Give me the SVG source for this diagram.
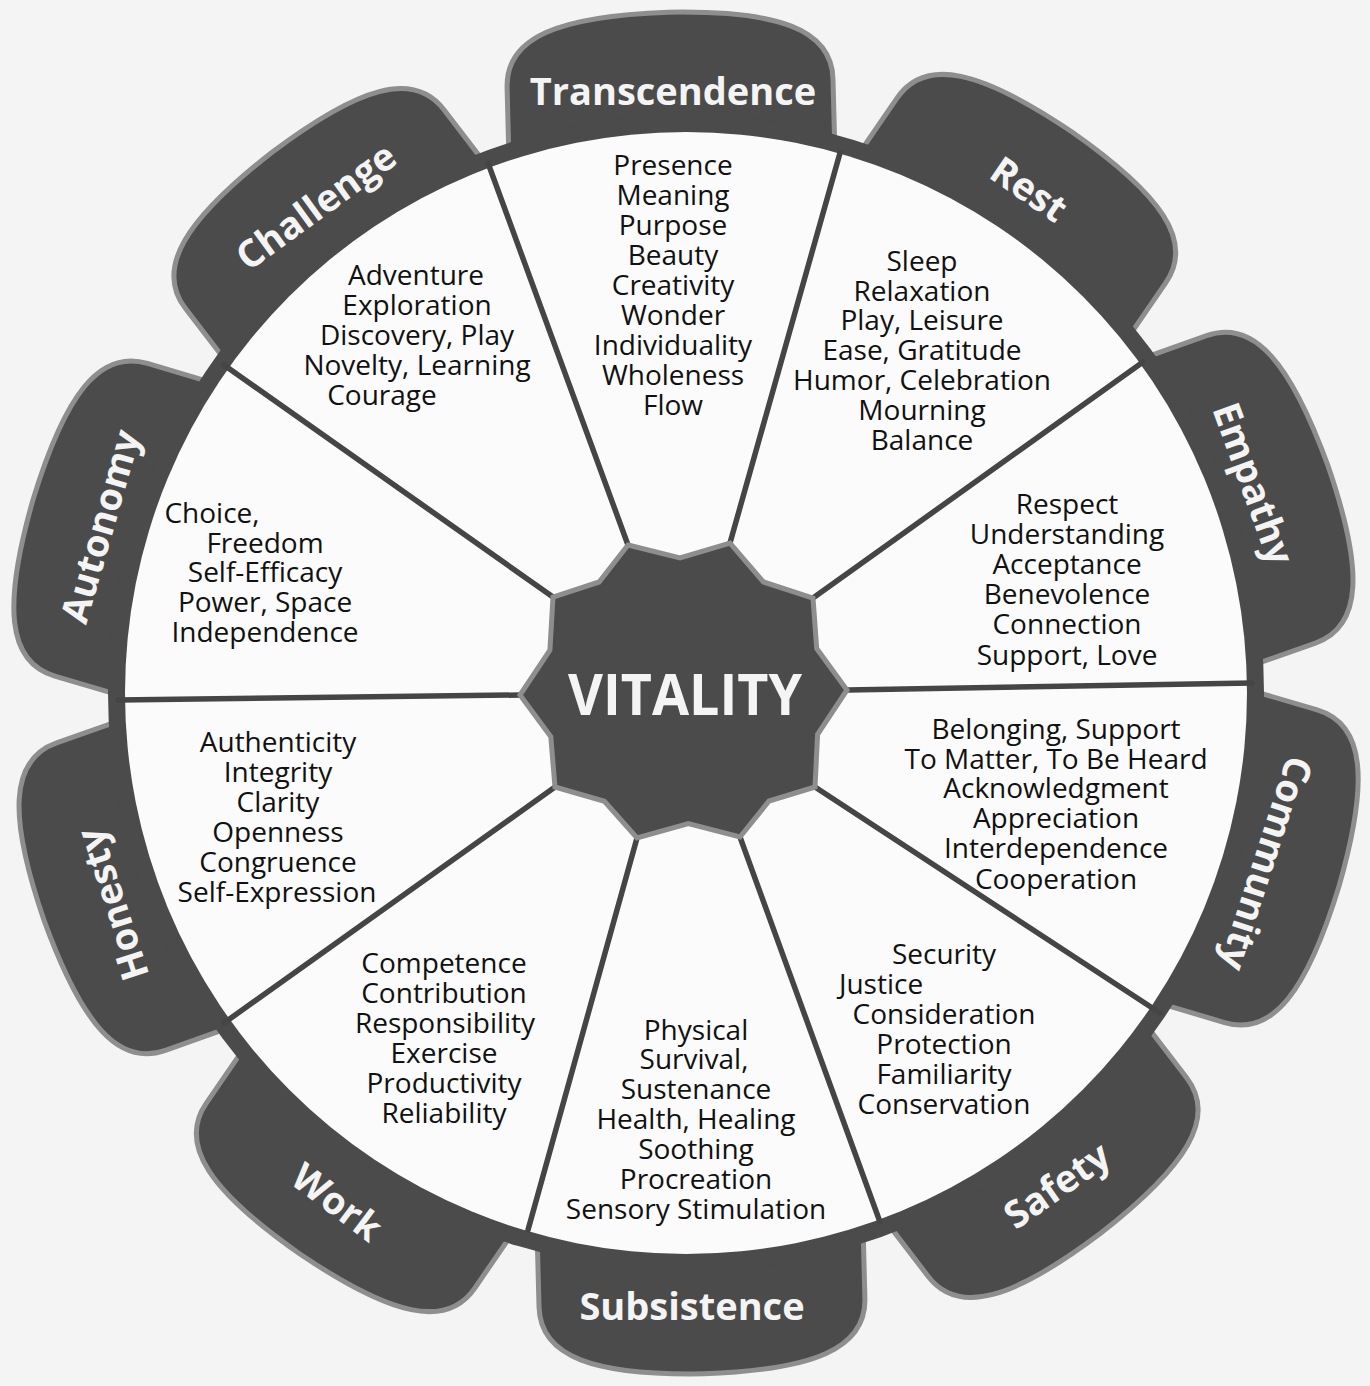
<svg xmlns="http://www.w3.org/2000/svg" width="1370" height="1386" viewBox="0 0 1370 1386">
<defs>
<style>
.petal{fill:#4b4b4b;stroke:#8e8e8e;stroke-width:5;}
.lbl{font-family:"Open Sans","Noto Sans",sans-serif;font-weight:bold;font-size:38px;fill:#f4f4f4;text-anchor:middle;dominant-baseline:central;}
.body{font-family:"Open Sans","Noto Sans",sans-serif;font-size:28px;fill:#111;text-anchor:middle;}
.spoke{stroke:#454545;stroke-width:5.5;stroke-linecap:round;}
</style>
<path id="petalShape" d="M523,153 L523,83 C523,33 576,13 686,12 C796,13 849,33 849,83 L849,153 Z"/>
</defs>
<rect x="0" y="0" width="1370" height="1386" fill="#f4f4f4"/>

<g id="petals">
<use href="#petalShape" class="petal" transform="rotate(-1.5 686 693)"/>
<use href="#petalShape" class="petal" transform="rotate(34.5 686 693)"/>
<use href="#petalShape" class="petal" transform="rotate(70.5 686 693)"/>
<use href="#petalShape" class="petal" transform="rotate(106.5 686 693)"/>
<use href="#petalShape" class="petal" transform="rotate(142.5 686 693)"/>
<use href="#petalShape" class="petal" transform="rotate(178.5 686 693)"/>
<use href="#petalShape" class="petal" transform="rotate(214.5 686 693)"/>
<use href="#petalShape" class="petal" transform="rotate(250.5 686 693)"/>
<use href="#petalShape" class="petal" transform="rotate(286.5 686 693)"/>
<use href="#petalShape" class="petal" transform="rotate(322.5 686 693)"/>
</g>

<g id="wheel">
<circle cx="686" cy="693" r="578" fill="#4b4b4b"/>
<circle cx="686" cy="693" r="561" fill="#fbfbfb"/>
</g>

<g id="connectors">
<line class="spoke" x1="628" y1="545" x2="488" y2="163"/>
<line class="spoke" x1="730" y1="543" x2="840" y2="153"/>
<line class="spoke" x1="813" y1="598" x2="1143" y2="362"/>
<line class="spoke" x1="847" y1="690" x2="1252" y2="683"/>
<line class="spoke" x1="815" y1="787" x2="1160" y2="1013"/>
<line class="spoke" x1="740" y1="837" x2="880" y2="1222"/>
<line class="spoke" x1="637" y1="838" x2="528" y2="1230"/>
<line class="spoke" x1="555" y1="787" x2="224" y2="1023"/>
<line class="spoke" x1="520" y1="695" x2="118" y2="700"/>
<line class="spoke" x1="553" y1="597" x2="224" y2="365"/>
</g>

<g id="vitality">
<polygon points="628,545 680,558 730,543 763.5,582 813,598 816.7,648.5 847,690 817.6,734.3 815,787 769,801 740,837 688.3,823.5 637,838 604.4,801.3 555,787 550.8,736.7 520,695 549.9,650.2 553,597 599.1,582" fill="#4b4b4b" stroke="#8e8e8e" stroke-width="5" stroke-linejoin="miter"/>
<text x="685" y="715" font-family="'Open Sans','Noto Sans',sans-serif" font-weight="bold" font-size="57" fill="#f4f4f4" text-anchor="middle" textLength="234" lengthAdjust="spacingAndGlyphs">VITALITY</text>
</g>

<g id="transcendence">
<text class="lbl" x="673" y="90">Transcendence</text>
<text class="body" x="673" y="175">Presence</text>
<text class="body" x="673" y="205">Meaning</text>
<text class="body" x="673" y="235">Purpose</text>
<text class="body" x="673" y="265">Beauty</text>
<text class="body" x="673" y="295">Creativity</text>
<text class="body" x="673" y="325">Wonder</text>
<text class="body" x="673" y="355">Individuality</text>
<text class="body" x="673" y="385">Wholeness</text>
<text class="body" x="673" y="415">Flow</text>
</g>

<g id="rest">
<text class="lbl" x="1030" y="188" transform="rotate(34.5 1030 188)">Rest</text>
<text class="body" x="922" y="271">Sleep</text>
<text class="body" x="922" y="301">Relaxation</text>
<text class="body" x="922" y="330">Play, Leisure</text>
<text class="body" x="922" y="360">Ease, Gratitude</text>
<text class="body" x="922" y="390">Humor, Celebration</text>
<text class="body" x="922" y="420">Mourning</text>
<text class="body" x="922" y="450">Balance</text>
</g>

<g id="empathy">
<text class="lbl" x="1255" y="483" transform="rotate(70 1255 483)">Empathy</text>
<text class="body" x="1067" y="514">Respect</text>
<text class="body" x="1067" y="544">Understanding</text>
<text class="body" x="1067" y="574">Acceptance</text>
<text class="body" x="1067" y="604">Benevolence</text>
<text class="body" x="1067" y="634">Connection</text>
<text class="body" x="1067" y="665">Support, Love</text>
</g>

<g id="community">
<text class="lbl" x="1268" y="864" transform="rotate(108 1268 864)">Community</text>
<text class="body" x="1056" y="739">Belonging, Support</text>
<text class="body" x="1056" y="769">To Matter, To Be Heard</text>
<text class="body" x="1056" y="798">Acknowledgment</text>
<text class="body" x="1056" y="828">Appreciation</text>
<text class="body" x="1056" y="858">Interdependence</text>
<text class="body" x="1056" y="889">Cooperation</text>
</g>

<g id="safety">
<text class="lbl" x="1056" y="1184" transform="rotate(-35 1056 1184)">Safety</text>
<text class="body" x="944" y="964">Security</text>
<text class="body" x="881" y="994">Justice</text>
<text class="body" x="944" y="1024">Consideration</text>
<text class="body" x="944" y="1054">Protection</text>
<text class="body" x="944" y="1084">Familiarity</text>
<text class="body" x="944" y="1114">Conservation</text>
</g>

<g id="subsistence">
<text class="lbl" x="692" y="1305">Subsistence</text>
<text class="body" x="696" y="1040">Physical</text>
<text class="body" x="694" y="1069">Survival,</text>
<text class="body" x="696" y="1099">Sustenance</text>
<text class="body" x="696" y="1129">Health, Healing</text>
<text class="body" x="696" y="1159">Soothing</text>
<text class="body" x="696" y="1189">Procreation</text>
<text class="body" x="696" y="1219">Sensory Stimulation</text>
</g>

<g id="work">
<text class="lbl" x="338" y="1201" transform="rotate(37 338 1201)">Work</text>
<text class="body" x="444" y="973">Competence</text>
<text class="body" x="444" y="1003">Contribution</text>
<text class="body" x="445" y="1033">Responsibility</text>
<text class="body" x="444" y="1063">Exercise</text>
<text class="body" x="444" y="1093">Productivity</text>
<text class="body" x="444" y="1123">Reliability</text>
</g>

<g id="honesty">
<text class="lbl" x="111" y="905" transform="rotate(-108 111 905)">Honesty</text>
<text class="body" x="278" y="752">Authenticity</text>
<text class="body" x="278" y="782">Integrity</text>
<text class="body" x="278" y="812">Clarity</text>
<text class="body" x="278" y="842">Openness</text>
<text class="body" x="278" y="872">Congruence</text>
<text class="body" x="277" y="902">Self-Expression</text>
</g>

<g id="autonomy">
<text class="lbl" x="99" y="526" transform="rotate(-74 99 526)">Autonomy</text>
<text class="body" x="212" y="523">Choice,</text>
<text class="body" x="265" y="553">Freedom</text>
<text class="body" x="265" y="582">Self-Efficacy</text>
<text class="body" x="265" y="612">Power, Space</text>
<text class="body" x="265" y="642">Independence</text>
</g>

<g id="challenge">
<text class="lbl" x="315" y="205" transform="rotate(-36 315 205)">Challenge</text>
<text class="body" x="416" y="285">Adventure</text>
<text class="body" x="417" y="315">Exploration</text>
<text class="body" x="417" y="345">Discovery, Play</text>
<text class="body" x="417" y="375">Novelty, Learning</text>
<text class="body" x="382" y="405">Courage</text>
</g>
</svg>
